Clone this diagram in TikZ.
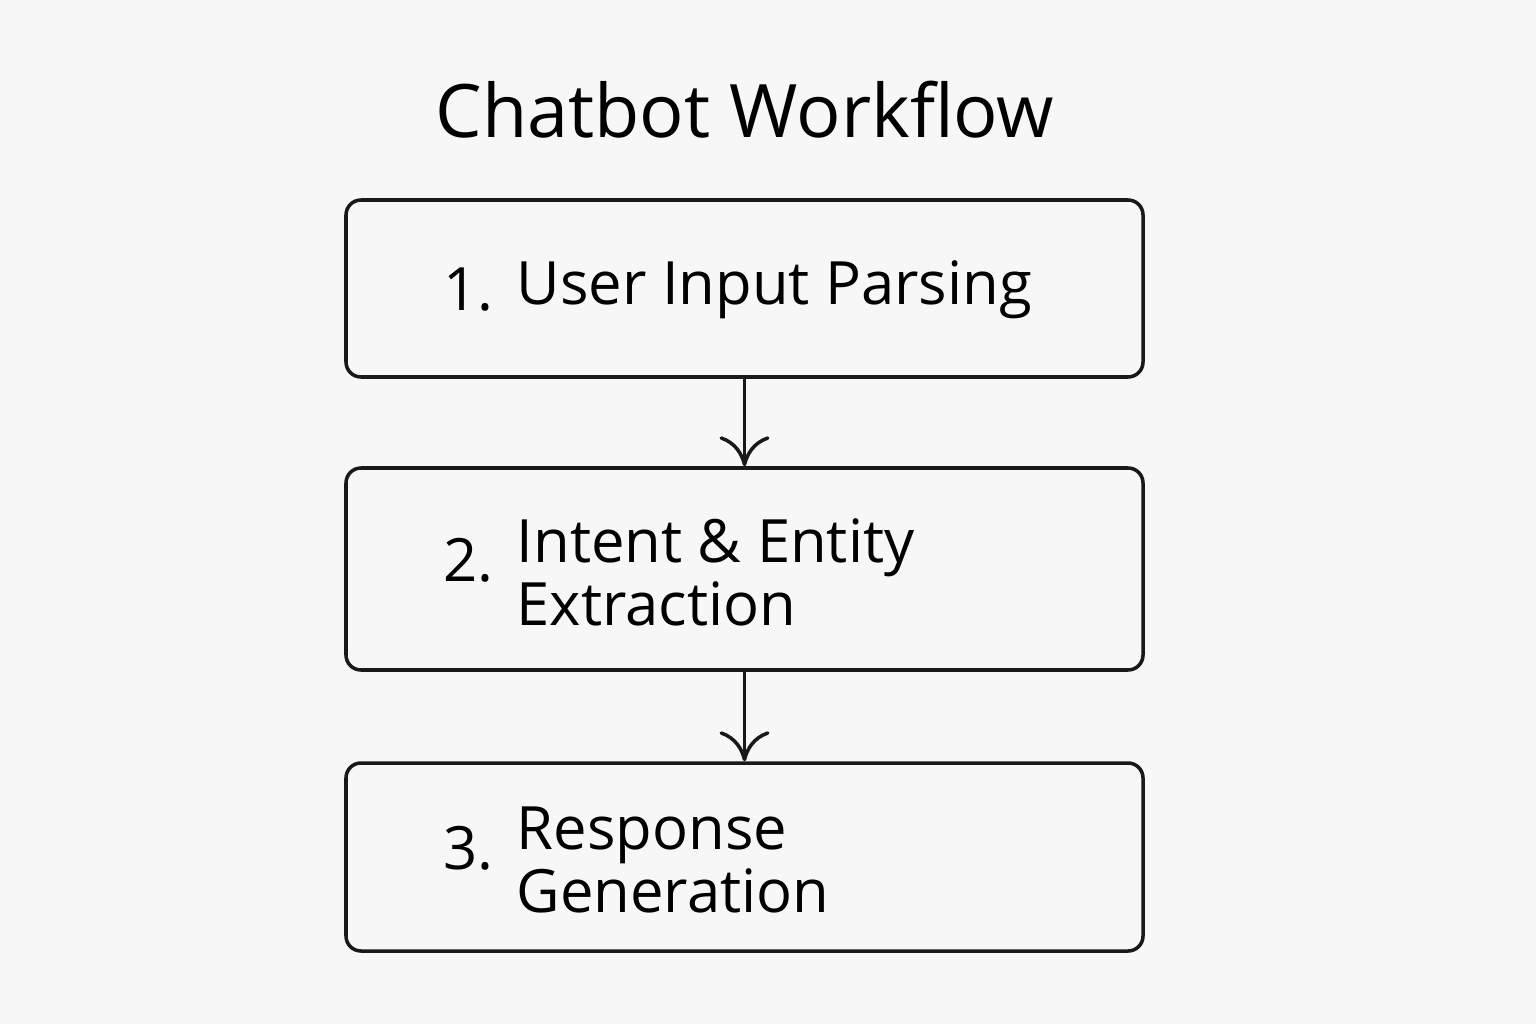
\documentclass[tikz,border=0pt]{standalone}
\usepackage{fontspec}
\setmainfont{Open Sans}
\usetikzlibrary{positioning,arrows.meta}
\tikzset{>={To[length=3mm,width=5mm]}}
\colorlet{background}{white!97!black}
\colorlet{penColor}{black!90}

\begin{document}
\begin{tikzpicture}[
    stepbox/.style={draw=penColor, line width=1pt, rounded corners=0.15cm, minimum width=7.97cm},
    num/.style={font=\fontsize{17}{18}\selectfont, anchor=west, inner sep=0pt},
    label/.style={font=\fontsize{17}{18}\selectfont, anchor=west, align=left, inner sep=0pt}
  ]
  \fill[background] (0,0) rectangle (15.36,10.24);
  \useasboundingbox (0,0) rectangle (15.36,10.24);

  \node (title) at (7.45,9.14) {\fontsize{21}{24}\selectfont Chatbot Workflow};

  \node[stepbox, minimum height=1.77cm] (parse) at (7.445,7.355) {};
  \node[stepbox, minimum height=2.02cm] (extract) at (7.445,4.55) {};
  \node[stepbox, minimum height=1.88cm] (respond) at (7.445,1.67) {};

  \node[num] (n1) at (4.43,7.34) {1.};
  \node[label] (t1) at (5.16,7.34) {User Input Parsing};
  \node[num] (n2) at (4.43,4.64) {2.};
  \node[label] (t2) at (5.16,4.52) {Intent \& Entity\\Extraction};
  \node[num] (n3) at (4.43,1.76) {3.};
  \node[label] (t3) at (5.16,1.64) {Response\\Generation};

  \draw[->, penColor, line width=1pt] (parse) -- (extract);
  \draw[->, penColor, line width=1pt] (extract) -- (respond);
\end{tikzpicture}
\end{document}
